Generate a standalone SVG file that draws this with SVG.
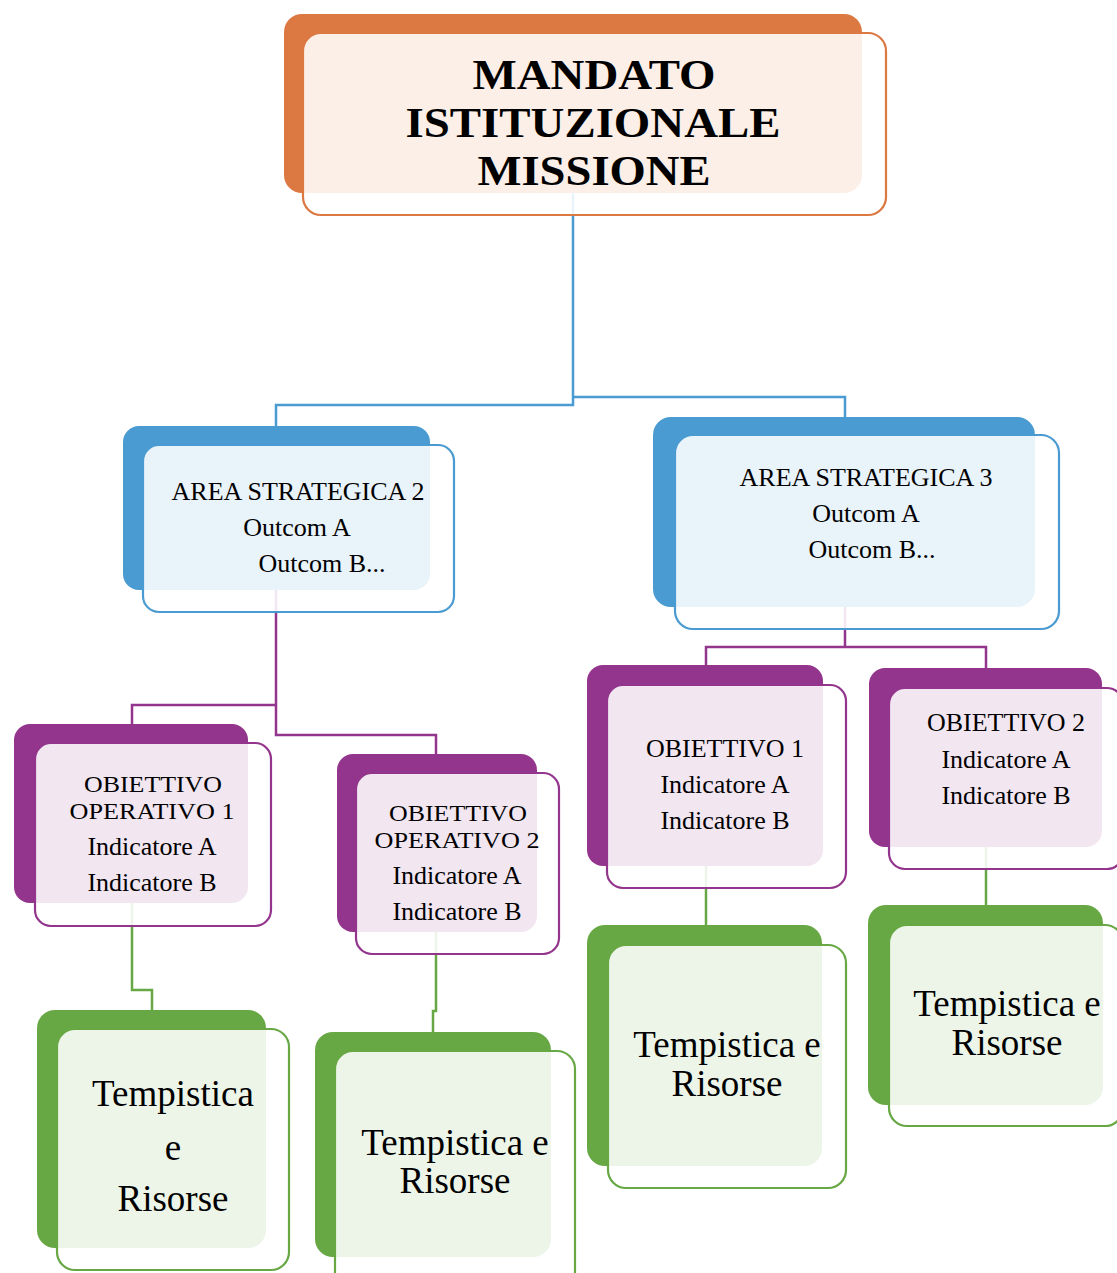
<svg xmlns="http://www.w3.org/2000/svg" width="1117" height="1273" viewBox="0 0 1117 1273">
<style>
  text { font-family: "Liberation Serif", "Times New Roman", serif; fill: #000; text-anchor: middle; }
  .t1 { font-size: 42px; font-weight: bold; }
  .t2 { font-size: 26px; }
  .t2s { font-size: 23px; }
  .t3 { font-size: 37px; }
  .front { fill: #ffffff; fill-opacity: 0.88; stroke-width: 2.2; }
  .conn { fill: none; stroke-width: 2.5; }
  .o .back { fill: #DC7842; } .o .front { stroke: #DC7842; }
  .b .back { fill: #4A9BD1; } .b .front { stroke: #4A9BD1; }
  .p .back { fill: #93358C; } .p .front { stroke: #93358C; }
  .g .back { fill: #67A844; } .g .front { stroke: #67A844; }
</style>
<rect width="1117" height="1273" fill="#ffffff"/>
<g id="connectors">
  <path class="conn" stroke="#4A9BD1" d="M573,190 V405 H276 V430 M573,397 H845 V420"/>
  <path class="conn" stroke="#93358C" d="M276,585 V705 H132 V728 M276,705 V735 H436 V758"/>
  <path class="conn" stroke="#93358C" d="M845,600 V647 M706,667 V647 H986 V670"/>
  <path class="conn" stroke="#67A844" d="M132,898 V990 H152 V1014"/>
  <path class="conn" stroke="#67A844" d="M436,928 V1011 H433 V1036"/>
  <path class="conn" stroke="#67A844" d="M706,860 V929"/>
  <path class="conn" stroke="#67A844" d="M986,842 V909"/>
</g>
<g id="node-mandato" class="o">
  <rect class="back" x="284" y="14" width="578" height="179" rx="18"/>
  <rect class="front" x="303" y="33" width="583" height="182" rx="18"/>
  <text class="t1" x="594" y="89" textLength="243" lengthAdjust="spacingAndGlyphs">MANDATO</text>
  <text class="t1" x="593" y="137" textLength="375" lengthAdjust="spacingAndGlyphs">ISTITUZIONALE</text>
  <text class="t1" x="594" y="185" textLength="233" lengthAdjust="spacingAndGlyphs">MISSIONE</text>
</g>
<g id="node-area2" class="b">
  <rect class="back" x="123" y="426" width="307" height="164" rx="16"/>
  <rect class="front" x="143" y="445" width="311" height="167" rx="16"/>
  <text class="t2" x="298" y="500">AREA STRATEGICA 2</text>
  <text class="t2" x="297" y="536">Outcom A</text>
  <text class="t2" x="322" y="572">Outcom B...</text>
</g>
<g id="node-area3" class="b">
  <rect class="back" x="653" y="417" width="382" height="190" rx="18"/>
  <rect class="front" x="675" y="435" width="384" height="194" rx="18"/>
  <text class="t2" x="866" y="486">AREA STRATEGICA 3</text>
  <text class="t2" x="866" y="522">Outcom A</text>
  <text class="t2" x="872" y="558">Outcom B...</text>
</g>
<g id="node-obop1" class="p">
  <rect class="back" x="14" y="724" width="234" height="179" rx="16"/>
  <rect class="front" x="35" y="743" width="236" height="183" rx="16"/>
  <text class="t2s" x="153" y="792" textLength="138" lengthAdjust="spacingAndGlyphs">OBIETTIVO</text>
  <text class="t2s" x="152" y="819" textLength="165" lengthAdjust="spacingAndGlyphs">OPERATIVO 1</text>
  <text class="t2" x="152" y="855">Indicatore A</text>
  <text class="t2" x="152" y="891">Indicatore B</text>
</g>
<g id="node-obop2" class="p">
  <rect class="back" x="337" y="754" width="200" height="178" rx="16"/>
  <rect class="front" x="356" y="773" width="203" height="181" rx="16"/>
  <text class="t2s" x="458" y="821" textLength="138" lengthAdjust="spacingAndGlyphs">OBIETTIVO</text>
  <text class="t2s" x="457" y="848" textLength="165" lengthAdjust="spacingAndGlyphs">OPERATIVO 2</text>
  <text class="t2" x="457" y="884">Indicatore A</text>
  <text class="t2" x="457" y="920">Indicatore B</text>
</g>
<g id="node-ob1" class="p">
  <rect class="back" x="587" y="665" width="236" height="201" rx="16"/>
  <rect class="front" x="607" y="685" width="239" height="203" rx="16"/>
  <text class="t2" x="725" y="757">OBIETTIVO 1</text>
  <text class="t2" x="725" y="793">Indicatore A</text>
  <text class="t2" x="725" y="829">Indicatore B</text>
</g>
<g id="node-ob2" class="p">
  <rect class="back" x="869" y="668" width="233" height="179" rx="16"/>
  <rect class="front" x="889" y="688" width="234" height="181" rx="16"/>
  <text class="t2" x="1006" y="731">OBIETTIVO 2</text>
  <text class="t2" x="1006" y="768">Indicatore A</text>
  <text class="t2" x="1006" y="804">Indicatore B</text>
</g>
<g id="node-tr1" class="g">
  <rect class="back" x="37" y="1010" width="229" height="238" rx="18"/>
  <rect class="front" x="57" y="1029" width="232" height="241" rx="18"/>
  <text class="t3" x="173" y="1106">Tempistica</text>
  <text class="t3" x="173" y="1160">e</text>
  <text class="t3" x="173" y="1211">Risorse</text>
</g>
<g id="node-tr2" class="g">
  <rect class="back" x="315" y="1032" width="236" height="225" rx="18"/>
  <rect class="front" x="335" y="1051" width="240" height="240" rx="18"/>
  <text class="t3" x="455" y="1155">Tempistica e</text>
  <text class="t3" x="455" y="1193">Risorse</text>
</g>
<g id="node-tr3" class="g">
  <rect class="back" x="587" y="925" width="235" height="241" rx="18"/>
  <rect class="front" x="608" y="945" width="238" height="243" rx="18"/>
  <text class="t3" x="727" y="1057">Tempistica e</text>
  <text class="t3" x="727" y="1096">Risorse</text>
</g>
<g id="node-tr4" class="g">
  <rect class="back" x="868" y="905" width="235" height="200" rx="18"/>
  <rect class="front" x="889" y="925" width="234" height="201" rx="18"/>
  <text class="t3" x="1007" y="1016">Tempistica e</text>
  <text class="t3" x="1007" y="1055">Risorse</text>
</g>
</svg>
